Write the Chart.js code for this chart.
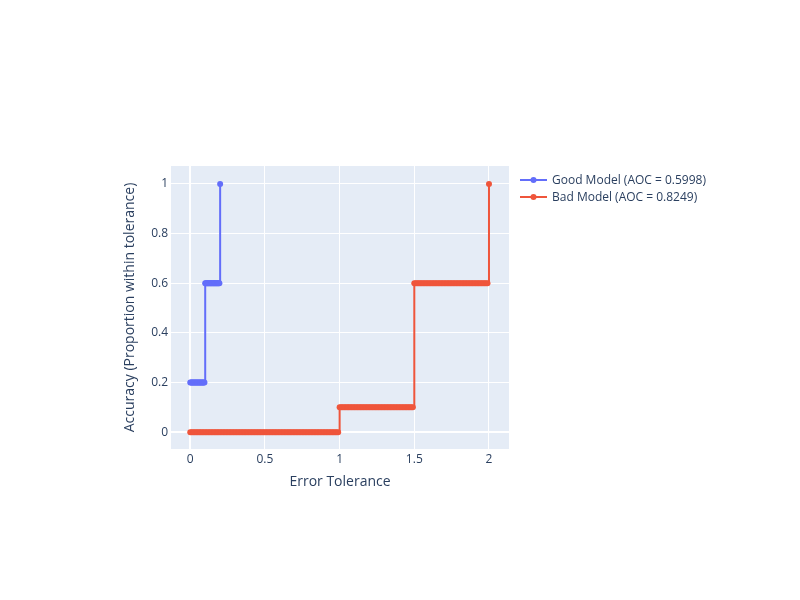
<!DOCTYPE html>
<html>
<head>
<meta charset="utf-8">
<script src="https://cdn.jsdelivr.net/npm/chart.js@4.4.1/dist/chart.umd.min.js"></script>
<style>
  body { margin: 0; background: #fff; }
  #wrap { position: relative; width: 800px; height: 600px; }
  #chart { display: block; }
  #legend {
    position: absolute; left: 520px; top: 171px;
    font-family: "Open Sans", verdana, arial, sans-serif;
    font-size: 12px; color: #2a3f5f;
  }
  .item { height: 17px; display: flex; align-items: center; white-space: nowrap; }
  .item svg { margin-right: 5px; }
</style>
</head>
<body>
<div id="wrap">
  <canvas id="chart" width="800" height="600"></canvas>
  <div id="legend"></div>
</div>
<script>
// Series names and colours
const seriesNames = ['Good Model (AOC = 0.5998)', 'Bad Model (AOC = 0.8249)'];
const seriesColors = ['#636efa', '#EF553B'];

// Good model: tolerance thresholds and accuracy
const goodX = [0, 0.005, 0.01, 0.015, 0.02, 0.025, 0.03, 0.035, 0.04, 0.045,
  0.05, 0.055, 0.06, 0.065, 0.07, 0.075, 0.08, 0.085, 0.09, 0.095,
  0.1, 0.105, 0.11, 0.115, 0.12, 0.125, 0.13, 0.135, 0.14, 0.145,
  0.15, 0.155, 0.16, 0.165, 0.17, 0.175, 0.18, 0.185, 0.19, 0.195,
  0.2];
const goodY = [0.2, 0.2, 0.2, 0.2, 0.2, 0.2, 0.2, 0.2, 0.2, 0.2,
  0.2, 0.2, 0.2, 0.2, 0.2, 0.2, 0.2, 0.2, 0.2, 0.2,
  0.6, 0.6, 0.6, 0.6, 0.6, 0.6, 0.6, 0.6, 0.6, 0.6,
  0.6, 0.6, 0.6, 0.6, 0.6, 0.6, 0.6, 0.6, 0.6, 0.6,
  1];

// Bad model: tolerance thresholds and accuracy
const badX = [
  0, 0.01, 0.02, 0.03, 0.04, 0.05, 0.06, 0.07, 0.08, 0.09,
  0.1, 0.11, 0.12, 0.13, 0.14, 0.15, 0.16, 0.17, 0.18, 0.19,
  0.2, 0.21, 0.22, 0.23, 0.24, 0.25, 0.26, 0.27, 0.28, 0.29,
  0.3, 0.31, 0.32, 0.33, 0.34, 0.35, 0.36, 0.37, 0.38, 0.39,
  0.4, 0.41, 0.42, 0.43, 0.44, 0.45, 0.46, 0.47, 0.48, 0.49,
  0.5, 0.51, 0.52, 0.53, 0.54, 0.55, 0.56, 0.57, 0.58, 0.59,
  0.6, 0.61, 0.62, 0.63, 0.64, 0.65, 0.66, 0.67, 0.68, 0.69,
  0.7, 0.71, 0.72, 0.73, 0.74, 0.75, 0.76, 0.77, 0.78, 0.79,
  0.8, 0.81, 0.82, 0.83, 0.84, 0.85, 0.86, 0.87, 0.88, 0.89,
  0.9, 0.91, 0.92, 0.93, 0.94, 0.95, 0.96, 0.97, 0.98, 0.99,
  1, 1.01, 1.02, 1.03, 1.04, 1.05, 1.06, 1.07, 1.08, 1.09,
  1.1, 1.11, 1.12, 1.13, 1.14, 1.15, 1.16, 1.17, 1.18, 1.19,
  1.2, 1.21, 1.22, 1.23, 1.24, 1.25, 1.26, 1.27, 1.28, 1.29,
  1.3, 1.31, 1.32, 1.33, 1.34, 1.35, 1.36, 1.37, 1.38, 1.39,
  1.4, 1.41, 1.42, 1.43, 1.44, 1.45, 1.46, 1.47, 1.48, 1.49,
  1.5, 1.51, 1.52, 1.53, 1.54, 1.55, 1.56, 1.57, 1.58, 1.59,
  1.6, 1.61, 1.62, 1.63, 1.64, 1.65, 1.66, 1.67, 1.68, 1.69,
  1.7, 1.71, 1.72, 1.73, 1.74, 1.75, 1.76, 1.77, 1.78, 1.79,
  1.8, 1.81, 1.82, 1.83, 1.84, 1.85, 1.86, 1.87, 1.88, 1.89,
  1.9, 1.91, 1.92, 1.93, 1.94, 1.95, 1.96, 1.97, 1.98, 1.99,
  2];
const badY = [
  0, 0, 0, 0, 0, 0, 0, 0, 0, 0,
  0, 0, 0, 0, 0, 0, 0, 0, 0, 0,
  0, 0, 0, 0, 0, 0, 0, 0, 0, 0,
  0, 0, 0, 0, 0, 0, 0, 0, 0, 0,
  0, 0, 0, 0, 0, 0, 0, 0, 0, 0,
  0, 0, 0, 0, 0, 0, 0, 0, 0, 0,
  0, 0, 0, 0, 0, 0, 0, 0, 0, 0,
  0, 0, 0, 0, 0, 0, 0, 0, 0, 0,
  0, 0, 0, 0, 0, 0, 0, 0, 0, 0,
  0, 0, 0, 0, 0, 0, 0, 0, 0, 0,
  0.1, 0.1, 0.1, 0.1, 0.1, 0.1, 0.1, 0.1, 0.1, 0.1,
  0.1, 0.1, 0.1, 0.1, 0.1, 0.1, 0.1, 0.1, 0.1, 0.1,
  0.1, 0.1, 0.1, 0.1, 0.1, 0.1, 0.1, 0.1, 0.1, 0.1,
  0.1, 0.1, 0.1, 0.1, 0.1, 0.1, 0.1, 0.1, 0.1, 0.1,
  0.1, 0.1, 0.1, 0.1, 0.1, 0.1, 0.1, 0.1, 0.1, 0.1,
  0.6, 0.6, 0.6, 0.6, 0.6, 0.6, 0.6, 0.6, 0.6, 0.6,
  0.6, 0.6, 0.6, 0.6, 0.6, 0.6, 0.6, 0.6, 0.6, 0.6,
  0.6, 0.6, 0.6, 0.6, 0.6, 0.6, 0.6, 0.6, 0.6, 0.6,
  0.6, 0.6, 0.6, 0.6, 0.6, 0.6, 0.6, 0.6, 0.6, 0.6,
  0.6, 0.6, 0.6, 0.6, 0.6, 0.6, 0.6, 0.6, 0.6, 0.6,
  1];

// Tick labels
const xTicks = [0, 0.5, 1, 1.5, 2];
const xTickLabels = ['0', '0.5', '1', '1.5', '2'];
const yTicks = [0, 0.2, 0.4, 0.6, 0.8, 1];
const yTickLabels = ['0', '0.2', '0.4', '0.6', '0.8', '1'];

function toPoints(xs, ys) {
    return xs.map((x, i) => ({ x: x, y: ys[i] }));
}

Chart.defaults.font.family = '"Open Sans", verdana, arial, sans-serif';
Chart.defaults.font.size = 12;
Chart.defaults.color = '#2a3f5f';

// plot background like plotly
const plotBg = {
    id: 'plotBg',
    beforeDraw(chart) {
        const a = chart.chartArea;
        const c = chart.ctx;
        c.save();
        c.fillStyle = '#E5ECF6';
        c.fillRect(a.left, a.top, a.right - a.left, a.bottom - a.top);
        c.restore();
    }
};

function gridWidth(c) {
    return c.tick && c.tick.value === 0 ? 2 : 1;
}

const allX = [goodX, badX];
const allY = [goodY, badY];

const datasets = seriesNames.map((name, i) => ({
    label: name,
    data: toPoints(allX[i], allY[i]),
    borderColor: seriesColors[i],
    backgroundColor: seriesColors[i],
    pointBackgroundColor: seriesColors[i],
    pointBorderWidth: 0,
    pointRadius: 3,
    borderWidth: 2,
    stepped: 'before',
    order: seriesNames.length - i
}));

new Chart(document.getElementById('chart').getContext('2d'), {
    type: 'line',
    data: { datasets: datasets },
    options: {
        responsive: false,
        animation: false,
        layout: { padding: { left: 0, right: 291, top: 166, bottom: 0 } },
        plugins: { legend: { display: false }, tooltip: { enabled: false } },
        scales: {
            x: {
                type: 'linear',
                min: -0.129,
                max: 2.134,
                afterBuildTicks(s) { s.ticks = xTicks.map(v => ({ value: v })); },
                afterFit(s) { s.height = 151; },
                ticks: {
                    padding: 3,
                    maxRotation: 0,
                    callback: (v) => xTickLabels[xTicks.indexOf(v)]
                },
                grid: { color: '#ffffff', lineWidth: gridWidth, drawTicks: false },
                border: { display: false },
                title: {
                    display: true,
                    text: 'Error Tolerance',
                    font: { size: 14 },
                    padding: { top: 0, bottom: 110 }
                }
            },
            y: {
                type: 'linear',
                min: -0.068,
                max: 1.0725,
                afterBuildTicks(s) { s.ticks = yTicks.map(v => ({ value: v })); },
                afterFit(s) { s.width = 171; },
                ticks: {
                    padding: 3,
                    callback: (v) => yTickLabels[yTicks.indexOf(v)]
                },
                grid: { color: '#ffffff', lineWidth: gridWidth, drawTicks: false },
                border: { display: false },
                title: {
                    display: true,
                    text: 'Accuracy (Proportion within tolerance)',
                    font: { size: 14 },
                    padding: { top: 122, bottom: 0 }
                }
            }
        }
    },
    plugins: [plotBg]
});

// Legend
const legend = document.getElementById('legend');
seriesNames.forEach((name, i) => {
    const row = document.createElement('div');
    row.className = 'item';
    row.innerHTML = '<svg width="27" height="10"><line x1="0" y1="5" x2="27" y2="5" stroke="' +
        seriesColors[i] + '" stroke-width="2"/><circle cx="13.5" cy="5" r="3" fill="' +
        seriesColors[i] + '"/></svg>';
    const span = document.createElement('span');
    span.innerText = name;
    row.appendChild(span);
    legend.appendChild(row);
});
</script>
</body>
</html>
